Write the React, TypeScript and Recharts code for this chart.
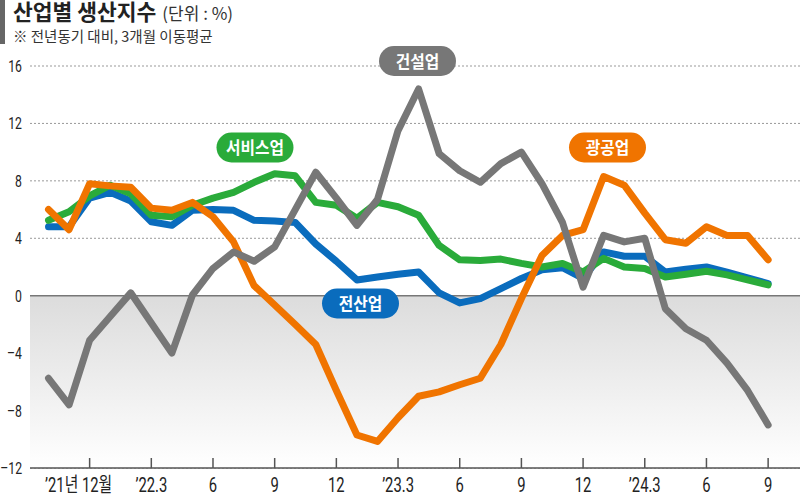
import React from 'react';
import { LineChart, Line, XAxis, YAxis, CartesianGrid, ReferenceArea, ReferenceLine } from 'recharts';

// 2021.10 ~ 2024.9, 전년동기 대비(%), 3개월 이동평균
const MONTH_IDX = Array.from({ length: 36 }, (_, i) => i);

const TOTAL = [4.8, 4.8, 6.8, 7.2, 6.6, 5.15, 4.9, 5.95, 6.0, 5.95, 5.25, 5.2, 5.1, 3.6, 2.4, 1.1, 1.3, 1.5, 1.65, 0.2, -0.5, -0.2, 0.5, 1.2, 1.8, 1.95, 1.2, 3.05, 2.75, 2.75, 1.65, 1.85, 2.0, 1.65, 1.25, 0.85];
const SERVICE = [5.25, 5.85, 6.95, 7.7, 7.1, 5.6, 5.5, 6.3, 6.8, 7.2, 7.9, 8.5, 8.35, 6.5, 6.3, 5.4, 6.5, 6.2, 5.6, 3.5, 2.5, 2.45, 2.55, 2.25, 2.0, 2.25, 1.65, 2.6, 2.0, 1.9, 1.3, 1.5, 1.7, 1.45, 1.1, 0.75];
const MINING = [6.0, 4.6, 7.8, 7.65, 7.55, 6.1, 5.95, 6.5, 5.5, 3.75, 0.7, -0.65, -2.0, -3.4, -6.6, -9.7, -10.15, -8.5, -7.0, -6.7, -6.2, -5.75, -3.4, -0.2, 2.8, 4.2, 4.6, 8.3, 7.7, 5.75, 3.9, 3.65, 4.8, 4.2, 4.2, 2.5];
const CONSTRUCTION = [-5.75, -7.6, -3.1, -1.45, 0.2, -1.9, -4.0, 0.05, 1.9, 3.05, 2.4, 3.4, 6.0, 8.6, 6.8, 4.9, 6.7, 11.5, 14.4, 9.9, 8.7, 7.9, 9.2, 10.0, 7.8, 5.1, 0.6, 4.2, 3.75, 4.0, -0.9, -2.3, -3.1, -4.7, -6.6, -9.0];

const X_TICKS = [2, 5, 8, 11, 14, 17, 20, 23, 26, 29, 32, 35];
const X_LABELS = ['’21년 12월', '’22.3', '6', '9', '12', '’23.3', '6', '9', '12', '’24.3', '6', '9'];
const Y_TICKS = [-12, -8, -4, 0, 4, 8, 12, 16];

const C_TOTAL = '#0a6cbd';
const C_SERVICE = '#2aab3a';
const C_MINING = '#f07400';
const C_CONST = '#777777';
const FONT = '"Noto Sans CJK KR", "Noto Sans", sans-serif';
const NUM_FONT = 'Roboto, "Noto Sans CJK KR", sans-serif';

const data = MONTH_IDX.map(i => ({
  i,
  total: TOTAL[i],
  service: SERVICE[i],
  mining: MINING[i],
  construction: CONSTRUCTION[i],
}));

const XTick = (props: any) => {
  const { x, y, payload, index } = props;
  const label = X_LABELS[X_TICKS.indexOf(payload.value)] ?? '';
  const shift = index === 0 ? -11 : 0;
  return (
    <g>
      <line x1={x} x2={x} y1={y - 10} y2={y} stroke="#555" strokeWidth={1.5} />
      <text
        transform={`translate(${x + shift},${y + 24}) scale(0.74,1)`}
        textAnchor="middle"
        fontSize={20}
        fill="#222"
        fontFamily={NUM_FONT}
      >
        {label}
      </text>
    </g>
  );
};

const YTick = (props: any) => {
  const { x, y, payload } = props;
  const label = payload.value < 0 ? `–${Math.abs(payload.value)}` : `${payload.value}`;
  return (
    <text
      transform={`translate(${x - 8},${y + 6}) scale(0.72,1)`}
      textAnchor="end"
      fontSize={17}
      fill="#222"
      fontFamily={NUM_FONT}
    >
      {label}
    </text>
  );
};

const Pill = ({ cx, cy, text, color }: { cx: number; cy: number; text: string; color: string }) => (
  <g>
    <rect x={cx - 38.5} y={cy - 15} width={77} height={30} rx={15} fill={color} />
    <text
      transform={`translate(${cx},${cy + 6.5}) scale(0.9,1)`}
      textAnchor="middle"
      fontSize={17.5}
      fontWeight={700}
      fill="#fff"
      fontFamily={FONT}
    >
      {text}
    </text>
  </g>
);

export default function App() {
  return (
    <div style={{ position: 'absolute', left: 0, top: 0, width: 800, height: 496, background: '#fff', fontFamily: FONT }}>
      <LineChart width={800} height={496} data={data} margin={{ top: 66, right: 0, bottom: 0, left: 0 }}>
        <defs>
          <linearGradient id="negGrad" x1="0" y1="0" x2="0" y2="1">
            <stop offset="0%" stopColor="#dcdcdc" />
            <stop offset="100%" stopColor="#ffffff" />
          </linearGradient>
        </defs>
        <ReferenceArea y1={-12} y2={0} fill="url(#negGrad)" fillOpacity={1} stroke="none" />
        <CartesianGrid vertical={false} stroke="#999" strokeDasharray="2 2" />
        <ReferenceLine y={0} stroke="#777" strokeWidth={1.5} />
        <XAxis
          dataKey="i"
          type="number"
          domain={[-0.9, 36.55]}
          ticks={X_TICKS}
          interval={0}
          height={28}
          tickSize={0}
          tickMargin={0}
          axisLine={{ stroke: '#555', strokeWidth: 1.5 }}
          tick={<XTick />}
        />
        <YAxis
          type="number"
          domain={[-12, 16]}
          ticks={Y_TICKS}
          interval={0}
          width={30}
          tickSize={0}
          tickMargin={0}
          axisLine={false}
          tick={<YTick />}
        />
        <Line dataKey="total" stroke={C_TOTAL} strokeWidth={7} dot={false} type="linear" strokeLinejoin="round" strokeLinecap="round" isAnimationActive={false} />
        <Line dataKey="service" stroke={C_SERVICE} strokeWidth={7} dot={false} type="linear" strokeLinejoin="round" strokeLinecap="round" isAnimationActive={false} />
        <Line dataKey="mining" stroke={C_MINING} strokeWidth={7} dot={false} type="linear" strokeLinejoin="round" strokeLinecap="round" isAnimationActive={false} />
        <Line dataKey="construction" stroke={C_CONST} strokeWidth={7} dot={false} type="linear" strokeLinejoin="round" strokeLinecap="round" isAnimationActive={false} />
      </LineChart>
      <div style={{ position: 'absolute', left: 0, top: 0, width: 5, height: 44, background: '#666' }} />
      <div style={{ position: 'absolute', left: 13, top: 0, height: 22, lineHeight: '22px', whiteSpace: 'nowrap', color: '#222' }}>
        <span style={{ fontSize: 21.5, fontWeight: 700 }}>산업별 생산지수</span>
        <span style={{ fontSize: 17, marginLeft: 6, color: '#333' }}>(단위 : %)</span>
      </div>
      <div style={{ position: 'absolute', left: 13, top: 27, height: 18, lineHeight: '18px', fontSize: 14.5, whiteSpace: 'nowrap', color: '#333' }}>
        ※ 전년동기 대비, 3개월 이동평균
      </div>
      <svg width={800} height={496} style={{ position: 'absolute', left: 0, top: 0, pointerEvents: 'none' }}>
        <Pill cx={417.5} cy={61} text="건설업" color={C_CONST} />
        <Pill cx={255} cy={147.5} text="서비스업" color={C_SERVICE} />
        <Pill cx={607.5} cy={147.5} text="광공업" color={C_MINING} />
        <Pill cx={360.5} cy={303.5} text="전산업" color={C_TOTAL} />
      </svg>
    </div>
  );
}
